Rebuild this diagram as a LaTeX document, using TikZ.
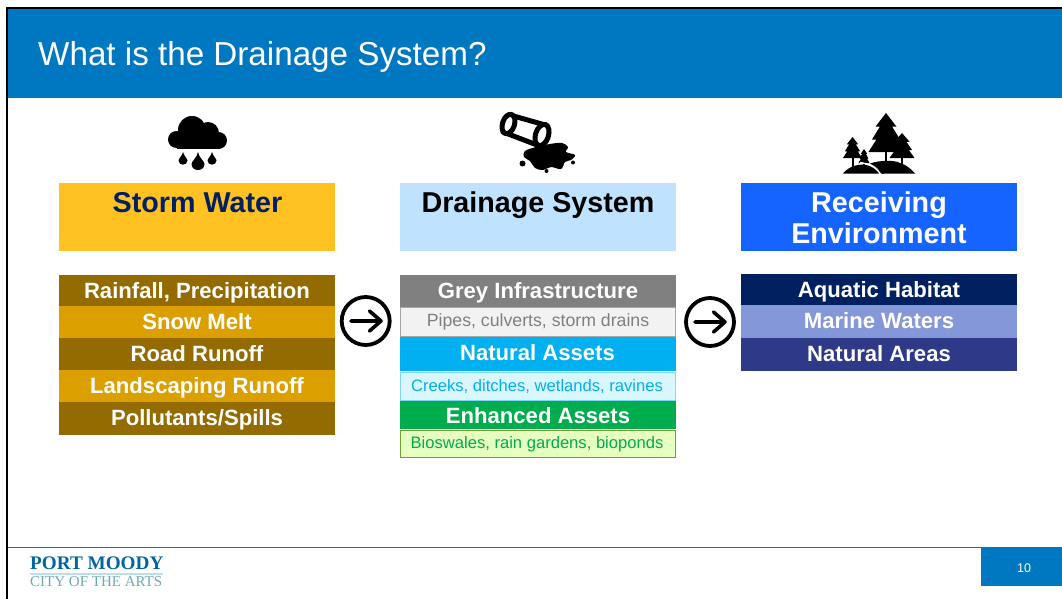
\documentclass[tikz,border=0pt]{standalone}
\usepackage{fontspec}
\setmainfont{Liberation Sans}
\newfontfamily\logofont{Liberation Serif}
\definecolor{band}{HTML}{0077C1}
\definecolor{brownA}{HTML}{946B00}
\definecolor{brownB}{HTML}{DBA000}
\definecolor{navyA}{HTML}{002060}
\definecolor{lilacA}{HTML}{8497D8}
\definecolor{navyB}{HTML}{2E3A87}
\definecolor{greyA}{HTML}{808080}
\definecolor{greyB}{HTML}{F2F2F2}
\definecolor{blueA}{HTML}{00B0F0}
\definecolor{blueB}{HTML}{DAF7FF}
\definecolor{blueC}{HTML}{7FD7F7}
\definecolor{greenA}{HTML}{00AD4E}
\definecolor{greenB}{HTML}{E6FFC0}
\definecolor{greenC}{HTML}{70A030}
\definecolor{stormc}{HTML}{FFC222}
\definecolor{drainc}{HTML}{BFE3FF}
\definecolor{recvc}{HTML}{1664FF}
\definecolor{logoteal}{HTML}{6FAAB2}
\tikzset{
 x=1pt,y=-1pt,
 rowtext/.style={anchor=base,inner sep=0pt,text=white,font=\fontsize{22.1}{24}\selectfont\bfseries},
 subtext/.style={anchor=base,inner sep=0pt,font=\fontsize{16.6}{20}\selectfont},
 headtext/.style={anchor=base,inner sep=0pt,font=\fontsize{28.7}{30.5}\selectfont\bfseries},
 subbox/.style={line width=1pt},
 roundarrow/.style={circle,draw=black,line width=3.8pt,minimum size=48pt,inner sep=0pt},
 arrowline/.style={line width=3.6pt,line cap=round,line join=round},
 pipeline/.style={line width=5pt,line cap=round,line join=round}
}
\begin{document}
\begin{tikzpicture}
\useasboundingbox (0,0) rectangle (1062,599);
\fill[white] (0,0) rectangle (1062,599);
\fill[black] (6,7) rectangle (1062,9);
\fill[black] (6,7) rectangle (8,599);
\fill[band] (8,9) rectangle (1062,98);
\node[anchor=base west,inner sep=0pt,text=white,font=\fontsize{33.2}{36}\selectfont] (title) at (38,66) {What is the Drainage System?};
% headers
\fill[stormc] (59,183) rectangle (335,251);
\fill[drainc] (400,183) rectangle (676,251);
\fill[recvc] (741,183) rectangle (1017,251);
\node[headtext,text=navyA] (storm) at (197.5,212) {Storm Water};
\node[headtext,text=black] (drain) at (538,212) {Drainage System};
\node[headtext,text=white] (recvA) at (879,212) {Receiving};
\node[headtext,text=white] (recvB) at (879,243) {Environment};
% left column
\foreach \ya/\yb/\base/\c/\t in {275/306/298/brownA/{Rainfall, Precipitation},306/338/329/brownB/{Snow Melt},338/370/361/brownA/{Road Runoff},370/402/393/brownB/{Landscaping Runoff},402/435/425/brownA/{Pollutants/Spills}}{
 \fill[\c] (59,\ya) rectangle (335,\yb);
 \node[rowtext] at (197,\base) {\t};
}
% right column
\foreach \ya/\yb/\base/\c/\t in {274/305/297/navyA/{Aquatic Habitat},305/338/328/lilacA/{Marine Waters},338/371/361/navyB/{Natural Areas}}{
 \fill[\c] (741,\ya) rectangle (1017,\yb);
 \node[rowtext] at (879,\base) {\t};
}
% middle column
\fill[greyA] (400,275) rectangle (676,307);
\node[rowtext] (grey) at (538,298) {Grey Infrastructure};
\filldraw[subbox,fill=greyB,draw=greyA!70!white] (400.5,307.5) rectangle (675.5,336);
\node[subtext,text=greyA,font=\fontsize{17.7}{20}\selectfont] (pipes) at (538,326) {Pipes, culverts, storm drains};
\fill[blueA] (400,337) rectangle (676,371);
\node[rowtext] (natural) at (537.5,360) {Natural Assets};
\filldraw[subbox,fill=blueB,draw=blueC] (400.5,372) rectangle (675.5,400);
\node[subtext,text=blueA] (creeks) at (537,391) {Creeks, ditches, wetlands, ravines};
\fill[greenA] (400,401) rectangle (676,429);
\node[rowtext] (enh) at (538,423) {Enhanced Assets};
\filldraw[subbox,fill=greenB,draw=greenC] (400.5,430) rectangle (675.5,457.5);
\node[subtext,text=greenA] (bio) at (537,448.5) {Bioswales, rain gardens, bioponds};
% arrows
\node[roundarrow] (c1) at (365.7,321) {};
\draw[arrowline] (351,321) -- (381,321) (369.5,311) -- (381,321) -- (369.5,331);
\node[roundarrow] (c2) at (710,322) {};
\draw[arrowline] (695,322) -- (725,322) (713.5,312) -- (725,322) -- (713.5,332);
% cloud
\fill[black] (176.5,139.5) circle[radius=8.5];
\fill[black] (192,130) circle[radius=14];
\fill[black] (208,133) circle[radius=11];
\fill[black] (218.5,140.5) circle[radius=8.5];
\fill[black] (177,136) rectangle (218,149);
\fill[black] (183,152) .. controls (184,156) and (187.5,159) .. (187.5,160.5) .. controls (187.5,166) and (178.5,166) .. (178.5,160.5) .. controls (178.5,159) and (182,156) .. (183,152) -- cycle;
\fill[black] (198,152) .. controls (199,158) and (204.5,161) .. (204.5,164) .. controls (204.5,172) and (191.5,172) .. (191.5,164) .. controls (191.5,161) and (197,158) .. (198,152) -- cycle;
\fill[black] (212,152) .. controls (213,156) and (216.5,159) .. (216.5,160.5) .. controls (216.5,166) and (207.5,166) .. (207.5,160.5) .. controls (207.5,159) and (211,156) .. (212,152) -- cycle;
% spill
\fill[black] plot[smooth cycle,tension=0.6] coordinates {(525,151) (536,147) (550,144) (562,143) (568,147) (566,152) (575,155) (571,160) (565,162) (561,169) (551,167) (543,170) (535,168) (530,161) (524,157)};
\fill[black] (522.5,163.5) circle[radius=3];
\fill[black] (546.5,171) circle[radius=2];
\fill[black] (573,162.5) circle[radius=2];
% pipe
\fill[white] (510,115) -- (548,125) -- (538,145) -- (503,132) -- cycle;
\draw[pipeline] (510,115) -- (547,125.5) (503,132) -- (537,145);
\filldraw[pipeline,fill=white,rotate around={-18:(508.5,124)}] (508.5,124) ellipse[x radius=6,y radius=10];
\filldraw[pipeline,fill=white,rotate around={-18:(542,135)}] (542,135) ellipse[x radius=6.5,y radius=11];
% trees
\fill[black] (843,173.5) .. controls (850,165) and (860,164) .. (866,165) .. controls (873,166) and (880,170) .. (884,173.5) -- cycle;
\fill[black] (870,163.5) .. controls (880,160) and (895,160) .. (900,163) .. controls (907,165) and (912,170) .. (915,173.5) -- (882,173.5) .. controls (880,170) and (875,166) .. (870,163.5) -- cycle;
\foreach \cx/\top/\bot/\w in {886/113/152/17.5,902/133/158/12.5,852.5/137/158/9.5,864/149/163/5.5}{
 \fill[black] (\cx,\top) -- ({\cx+0.6*\w},{\top+0.35*(\bot-\top)}) -- ({\cx+0.35*\w},{\top+0.35*(\bot-\top)}) -- ({\cx+0.8*\w},{\top+0.68*(\bot-\top)}) -- ({\cx+0.55*\w},{\top+0.68*(\bot-\top)}) -- ({\cx+\w},\bot) -- ({\cx-\w},\bot) -- ({\cx-0.55*\w},{\top+0.68*(\bot-\top)}) -- ({\cx-0.8*\w},{\top+0.68*(\bot-\top)}) -- ({\cx-0.35*\w},{\top+0.35*(\bot-\top)}) -- ({\cx-0.6*\w},{\top+0.35*(\bot-\top)}) -- cycle;
 \fill[black] (\cx-1,\bot) rectangle (\cx+1,\bot+9);
}
\draw[white,line width=1.4pt] (860,162.5) .. controls (870,164) and (877,168) .. (881,175);
% footer
\fill[band] (8,547) rectangle (1062,548);
\fill[band] (981,547) rectangle (1062,586);
\node[inner sep=0pt,text=white,font=\fontsize{12.5}{14}\selectfont] (page) at (1024,568) {10};
\node[inner sep=0pt,anchor=base west,text=band!85!black,font=\logofont\fontsize{19.2}{20}\selectfont\bfseries] (logoA) at (30,569) {PORT MOODY};
\fill[band!25!white] (30,572.5) rectangle (163,574.5);
\node[inner sep=0pt,anchor=base west,text=logoteal,font=\logofont\fontsize{15}{16}\selectfont] (logoB) at (30,586) {CITY OF THE ARTS};
\end{tikzpicture}
\end{document}
